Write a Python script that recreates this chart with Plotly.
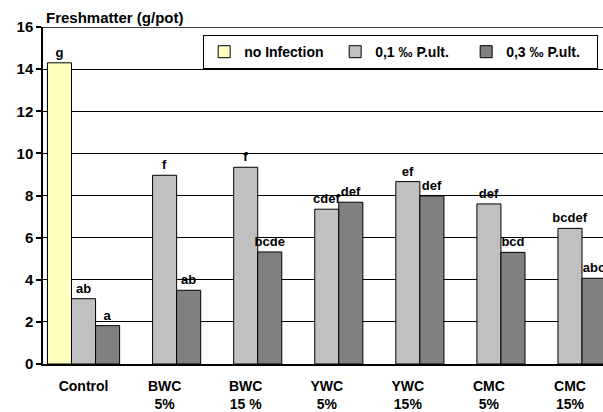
import plotly.graph_objects as go

categories = ["Control", "BWC<br>5%", "BWC<br>15 %", "YWC<br>5%", "YWC<br>15%", "CMC<br>5%", "CMC<br>15%"]
series_names = ["no Infection", "0,1 ‰ P.ult.", "0,3 ‰ P.ult."]
no_infection = [14.3, None, None, None, None, None, None]
p01 = [3.1, 8.96, 9.34, 7.35, 8.66, 7.6, 6.44]
p03 = [1.82, 3.5, 5.32, 7.68, 7.98, 5.3, 4.07]
labels_none = ["g", "", "", "", "", "", ""]
labels_p01 = ["ab", "f", "f", "cdef", "ef", "def", "bcdef"]
labels_p03 = ["a", "ab", "bcde", "def", "def", "bcd", "abc"]
y_ticks = [0, 2, 4, 6, 8, 10, 12, 14, 16]

colors = ["#FFFFC0", "#C0C0C0", "#808080"]
font_family = "Liberation Sans, Arial, sans-serif"

fig = go.Figure()
for name, vals, labs, col in zip(series_names, [no_infection, p01, p03],
                                 [labels_none, labels_p01, labels_p03], colors):
    fig.add_trace(go.Bar(
        x=list(range(len(categories))), y=vals, name="<b>%s</b>" % name,
        marker=dict(color=col, line=dict(color="black", width=1)),
        text=labs, texttemplate="<b>%{text}</b>", textposition="outside",
        constraintext="none", cliponaxis=True,
        textfont=dict(family=font_family, size=13, color="black"),
    ))

fig.update_layout(
    width=603, height=412,
    margin=dict(l=43, r=0, t=27, b=48),
    barmode="group", bargap=0.11, bargroupgap=0,
    plot_bgcolor="white", paper_bgcolor="white",
    font=dict(family=font_family, color="black"),
    showlegend=True,
    legend=dict(
        orientation="h", x=0.286, y=0.976, xanchor="left", yanchor="top",
        bordercolor="black", borderwidth=1, bgcolor="white",
        font=dict(family=font_family, size=14, color="black"),
        itemwidth=30, tracegroupgap=0, entrywidth=86, entrywidthmode="pixels",
    ),
    xaxis=dict(
        tickmode="array", tickvals=list(range(len(categories))),
        ticktext=["<b>%s</b>" % c for c in categories],
        range=[-0.5, 6.407], showline=True, linecolor="black", linewidth=1.5,
        ticks="", tickfont=dict(family=font_family, size=14, color="black"),
        showgrid=False, automargin=False, ticklabelstandoff=8,
    ),
    yaxis=dict(
        range=[0, 16], tickmode="array", tickvals=y_ticks,
        ticktext=["<b>%d</b>" % t for t in y_ticks],
        showline=True, linecolor="black", linewidth=1.5,
        ticks="outside", ticklen=5, tickcolor="black", tickwidth=1.5,
        showgrid=True, gridcolor="black", gridwidth=1, zeroline=False,
        tickfont=dict(family=font_family, size=15, color="black"),
        automargin=False,
    ),
    annotations=[dict(
        text="<b>Freshmatter (g/pot)</b>", xref="paper", yref="paper", x=0.002, y=1.0,
        xanchor="left", yanchor="bottom", yshift=-1, showarrow=False,
        font=dict(family=font_family, size=15, color="black"),
    )],
    shapes=[dict(type="line", xref="paper", yref="y", x0=0, x1=1, y0=16, y1=16,
                 line=dict(color="black", width=1.5))],
)

fig.write_html("out.html", config={"displayModeBar": False},
               post_script="document.body.style.margin='0px';")
